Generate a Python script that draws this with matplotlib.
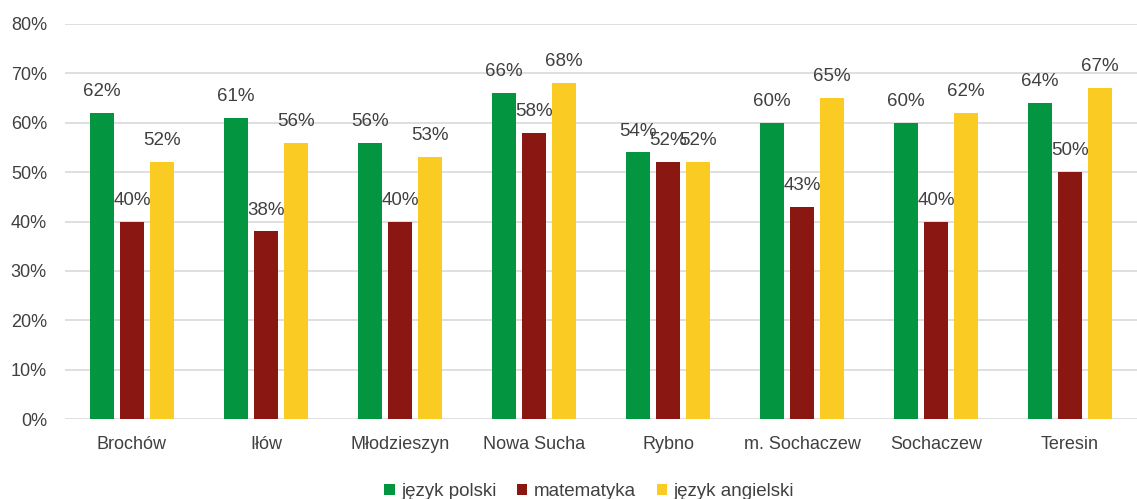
import numpy as np
import matplotlib.pyplot as plt
from matplotlib.ticker import PercentFormatter

# dane z wykresu
gminy = ['Brochów', 'Iłów', 'Młodzieszyn', 'Nowa Sucha', 'Rybno',
         'm. Sochaczew', 'Sochaczew', 'Teresin']
polski = [62, 61, 56, 66, 54, 60, 60, 64]
matematyka = [40, 38, 40, 58, 52, 43, 40, 50]
angielski = [52, 56, 53, 68, 52, 65, 62, 67]
serie = ['język polski', 'matematyka', 'język angielski']
kolory = ['#03953F', '#8B1713', '#FACB22']

plt.rcParams['font.family'] = ['Liberation Sans', 'DejaVu Sans']
txt = '#404040'

fig = plt.figure(figsize=(11.37, 4.99), dpi=100)
ax = fig.add_axes([65 / 1137, 80 / 499, 1 - 65 / 1137, 395 / 499])

x = np.arange(len(gminy))
w = 0.172
krok = 0.224
for i, (vals, name, c) in enumerate(zip([polski, matematyka, angielski], serie, kolory)):
    pos = x + (i - 1) * krok
    ax.bar(pos, vals, width=w, color=c, label=name, zorder=3)
    for p, v in zip(pos, vals):
        ax.text(p, v + 2.6, f'{v}%', ha='center', va='bottom', fontsize=13.5, color=txt)

ax.set_xlim(-0.5, len(gminy) - 0.5)
ax.set_ylim(0, 80)
ax.set_yticks(range(0, 81, 10))
ax.yaxis.set_major_formatter(PercentFormatter(decimals=0))
ax.grid(axis='y', color='#d9d9d9', linewidth=1.2, zorder=0)
for s in ax.spines.values():
    s.set_visible(False)
ax.tick_params(length=0, labelsize=13, colors=txt)
ax.tick_params(axis='y', pad=13)
ax.tick_params(axis='x', pad=12)
ax.set_xticks(x)
ax.set_xticklabels(gminy)

ax.legend(loc='upper center', bbox_to_anchor=(0.489, -0.12), ncol=3, frameon=False,
          fontsize=13.5, handlelength=0.55, handleheight=0.55, handletextpad=0.35,
          columnspacing=1.1, labelcolor=txt)

fig.savefig('out.png', dpi=100)
